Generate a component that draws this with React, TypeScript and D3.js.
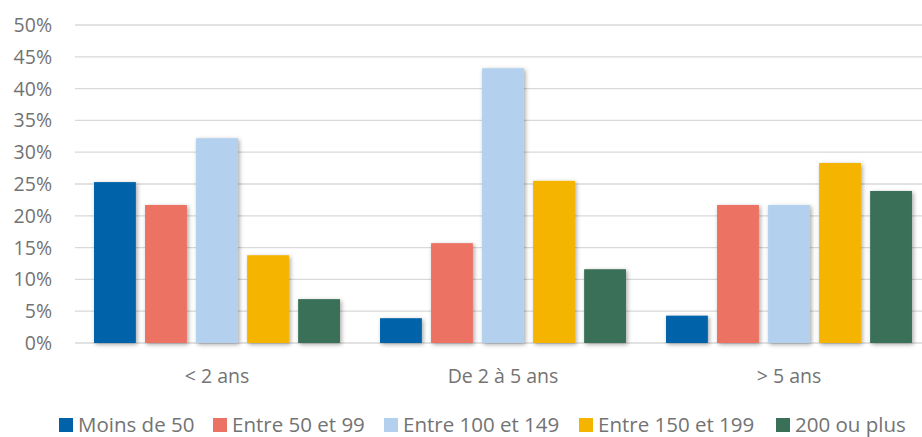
import React from "react";
import * as d3 from "d3";

const categories = ["< 2 ans", "De 2 à 5 ans", "> 5 ans"];
const seriesNames = ["Moins de 50", "Entre 50 et 99", "Entre 100 et 149", "Entre 150 et 199", "200 ou plus"];
const seriesColors = ["#0063A9", "#EC7263", "#B3D1EE", "#F5B400", "#3A7058"];
const moinsDe50 = [25.3, 3.9, 4.3];
const entre50et99 = [21.7, 15.7, 21.7];
const entre100et149 = [32.2, 43.2, 21.7];
const entre150et199 = [13.8, 25.5, 28.3];
const deuxCentsPlus = [6.9, 11.6, 23.9];
const seriesValues = [moinsDe50, entre50et99, entre100et149, entre150et199, deuxCentsPlus];
const yTicks = [0, 5, 10, 15, 20, 25, 30, 35, 40, 45, 50];

const W = 922, H = 437;
const left = 74, right = 932, top = 25, bottom = 343;
const FONT = "'Open Sans', sans-serif";
const TEXT = "#737373";

export default function App() {
  const x = d3.scaleBand<string>().domain(categories).range([left, right]).paddingInner(0.14).paddingOuter(0.07);
  const xs = d3.scaleBand<string>().domain(seriesNames).range([0, x.bandwidth()]).paddingInner(0.18);
  const y = d3.scaleLinear().domain([0, 50]).range([bottom, top]);

  const legendX = [59, 213, 384, 579, 776];
  return (
    <svg width={W} height={H} style={{ position: "absolute", left: 0, top: 0, background: "#fff" }}>
      <defs>
        <filter id="sh" x="-20%" y="-10%" width="150%" height="130%">
          <feDropShadow dx="1.5" dy="1.5" stdDeviation="2" floodColor="#000" floodOpacity="0.35" />
        </filter>
      </defs>
      {yTicks.map((t) => (
        <g key={t}>
          <line x1={left + 1} x2={W} y1={y(t)} y2={y(t)} stroke="#D9D9D9" strokeWidth={1.3} />
          <text x={52} y={y(t)} dy="0.36em" textAnchor="end" fontFamily={FONT} fontSize={19.5} fill={TEXT}>
            {t}%
          </text>
        </g>
      ))}
      {categories.map((c, ci) => (
        <g key={c}>
          {seriesNames.map((s, si) => {
            const v = seriesValues[si][ci];
            const bx = (x(c) as number) + (xs(s) as number);
            return (
              <rect key={s} x={bx} y={y(v)} width={xs.bandwidth()} height={y(0) - y(v)} fill={seriesColors[si]} filter="url(#sh)" />
            );
          })}
          <text x={(x(c) as number) + x.bandwidth() / 2} y={383} textAnchor="middle" fontFamily={FONT} fontSize={19.5} fill={TEXT}>
            {c}
          </text>
        </g>
      ))}
      {seriesNames.map((s, i) => (
        <g key={s}>
          <rect x={legendX[i]} y={418} width={14} height={14} fill={seriesColors[i]} />
          <text x={legendX[i] + 19} y={432} fontFamily={FONT} fontSize={20.5} fill={TEXT}>
            {s}
          </text>
        </g>
      ))}
    </svg>
  );
}
